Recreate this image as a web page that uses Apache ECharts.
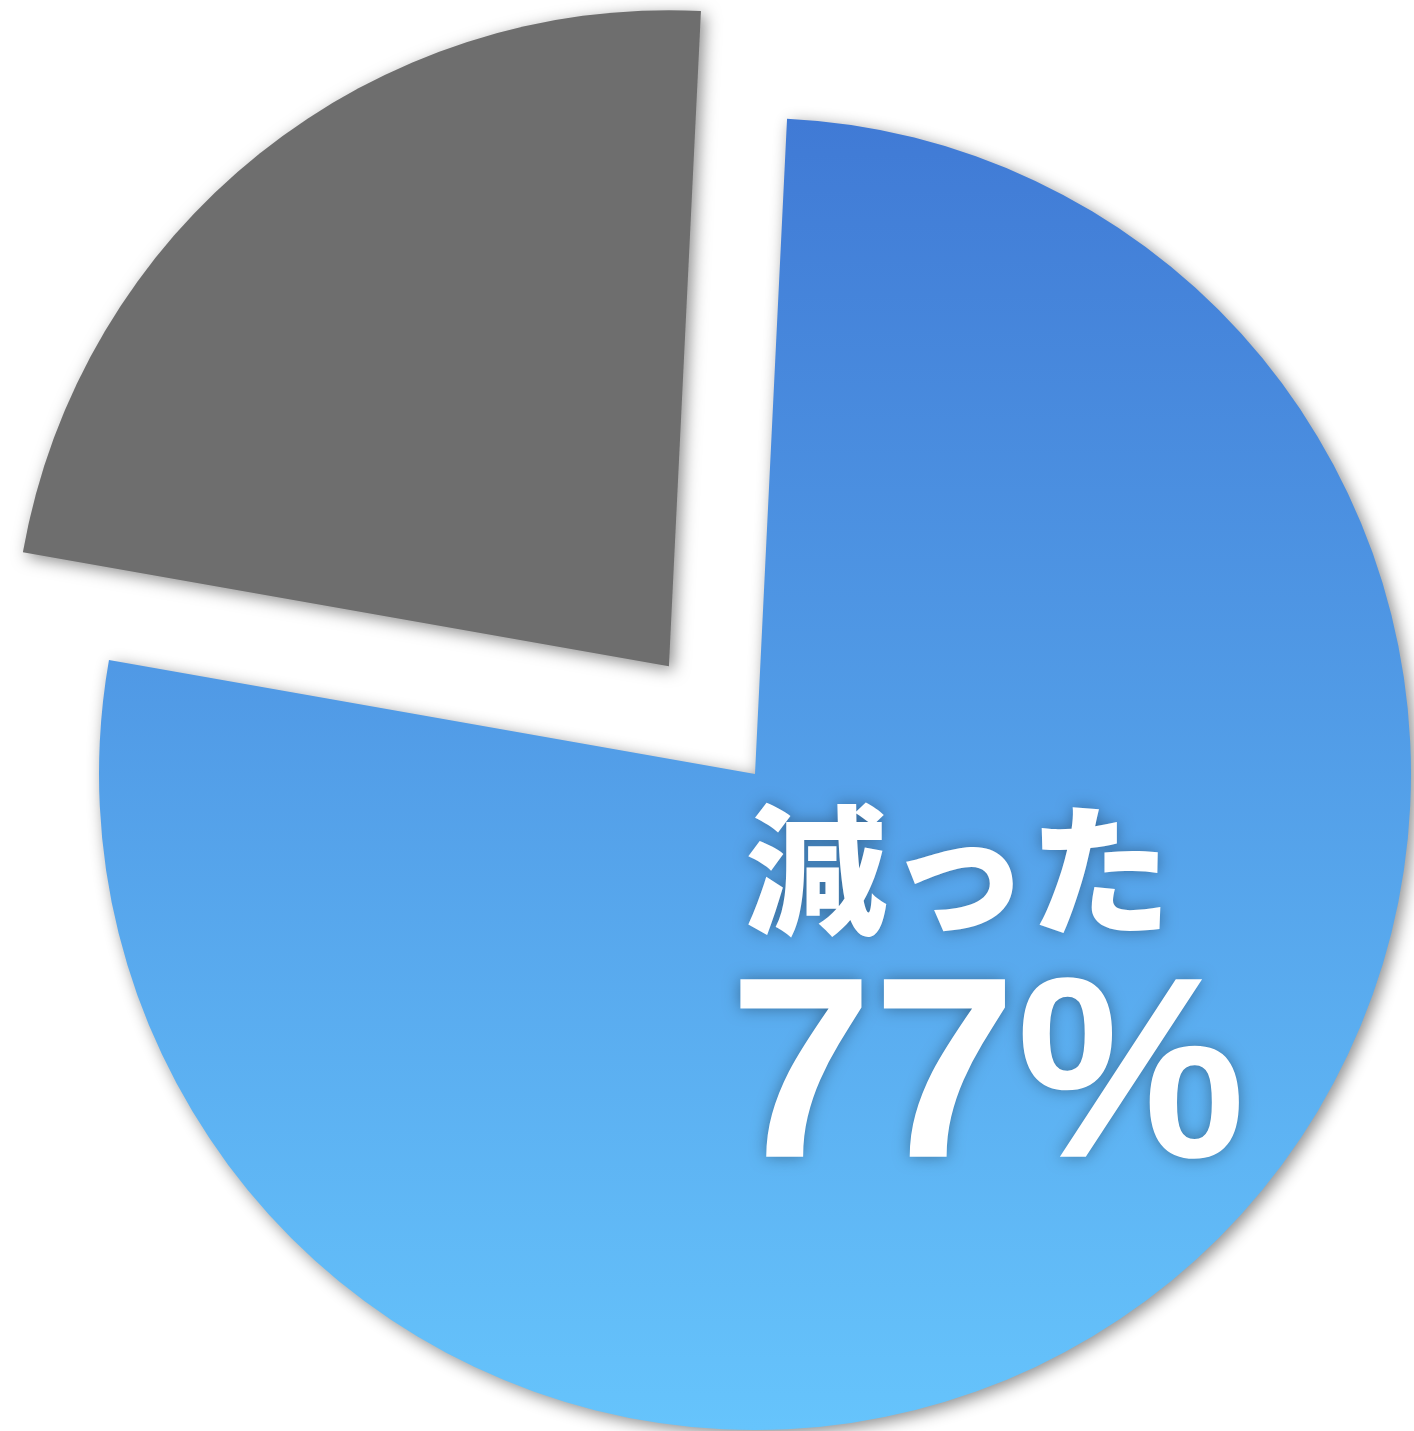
<!DOCTYPE html>
<html>
<head>
<meta charset="utf-8">
<script src="https://cdn.jsdelivr.net/npm/echarts@6/dist/echarts.min.js"></script>
<style>
html,body{margin:0;padding:0;background:#fff;}
#chart{width:1414px;height:1431px;}
</style>
</head>
<body>
<div id="chart"></div>
<script>
const categories = ['減った', 'その他'];
const values = [77, 23];
const labelText = '減った';

const chart = echarts.init(document.getElementById('chart'), null, {renderer: 'canvas'});
const option = {
  animation: false,
  series: [{
    type: 'pie',
    center: [755, 774],
    radius: 656,
    startAngle: 87.2,
    clockwise: true,
    selectedMode: 'single',
    selectedOffset: 138,
    emphasis: {disabled: true},
    itemStyle: {
      shadowBlur: 16,
      shadowColor: 'rgba(0,0,0,0.45)',
      shadowOffsetX: 4,
      shadowOffsetY: 4
    },
    labelLine: {show: false},
    data: [
      {
        name: categories[0],
        value: values[0],
        itemStyle: {
          color: {
            type: 'linear', x: 0, y: 0, x2: 0, y2: 1,
            colorStops: [
              {offset: 0, color: '#407AD5'},
              {offset: 1, color: '#66C4FC'}
            ]
          }
        },
        label: {
          show: true,
          position: 'inside',
          offset: [26, -38],
          align: 'left',
          formatter: function (p) { return '{a|' + labelText + '}\n{b|' + p.value + '%}'; },
          rich: {
            a: {
              fontFamily: '"Noto Sans CJK JP"',
              fontWeight: 900,
              fontSize: 142,
              lineHeight: 182,
              color: '#fff',
              align: 'left',
              padding: [0, 0, 0, 16],
              textShadowColor: 'rgba(0,0,0,0.35)',
              textShadowBlur: 16
            },
            b: {
              fontFamily: '"Liberation Sans", Arial, sans-serif',
              fontWeight: 'bold',
              fontSize: 258,
              lineHeight: 250,
              color: '#fff',
              align: 'left',
              textShadowColor: 'rgba(0,0,0,0.35)',
              textShadowBlur: 16
            }
          }
        }
      },
      {
        name: categories[1],
        value: values[1],
        selected: true,
        itemStyle: {color: '#6E6E6E'},
        label: {show: false}
      }
    ]
  }]
};
chart.setOption(option);
</script>
</body>
</html>
